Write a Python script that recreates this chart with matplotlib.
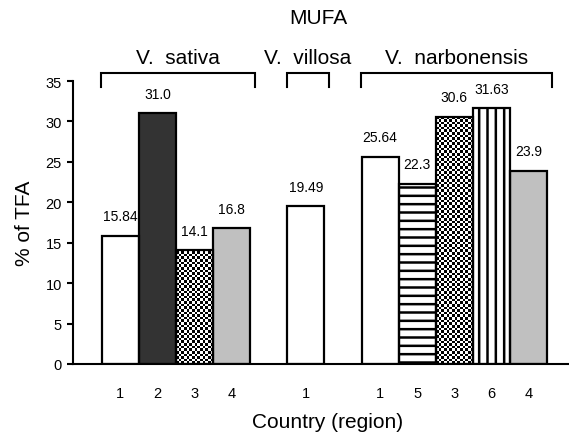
import numpy as np
import matplotlib
matplotlib.use("Agg")
import matplotlib.pyplot as plt

plt.rcParams['font.family'] = ['Liberation Sans', 'DejaVu Sans']
plt.rcParams['hatch.linewidth'] = 1.8

# MUFA content per species, one bar per country (region)
species = ['V.  sativa', 'V.  villosa', 'V.  narbonensis']
regions = [[1, 2, 3, 4], [1], [1, 5, 3, 6, 4]]
mufa = [[15.84, 31.0, 14.1, 16.8], [19.49], [25.64, 22.3, 30.6, 31.63, 23.9]]

# fill style for each region code
region_fill = {1: 'white', 2: '#333333', 3: 'checker', 4: '#c0c0c0', 5: '--', 6: '||'}

fig = plt.figure(figsize=(5.69, 4.35), dpi=100)
ax = fig.add_axes([73 / 569, 1 - 365 / 435, 496 / 569, 283 / 435])
ax.set_xlim(-1.275, 12.09)
ax.set_ylim(0, 35)

# bar slots: groups next to each other with one empty slot between
xs, hs, regs, spans = [], [], [], []
pos = 0
for reg, vals in zip(regions, mufa):
    start = pos
    for r, v in zip(reg, vals):
        xs.append(pos)
        hs.append(v)
        regs.append(r)
        pos += 1
    spans.append((start, pos - 1))
    pos += 1

px_x = ax.transData.transform((1, 0))[0] - ax.transData.transform((0, 0))[0]
px_y = ax.transData.transform((0, 1))[1] - ax.transData.transform((0, 0))[1]
cell = 2.6  # checker cell, pixels

for x, h, r in zip(xs, hs, regs):
    style = region_fill[r]
    if style in ('--', '||'):
        ax.bar(x, h, width=1.0, color='white', edgecolor='black', hatch=style,
               linewidth=0, zorder=2)
    elif style == 'checker':
        b = ax.bar(x, h, width=1.0, color='white', linewidth=0, zorder=2)[0]
        nx = int(np.ceil(px_x / cell))
        ny = int(np.ceil(h * px_y / cell))
        board = (np.indices((ny, nx)).sum(axis=0) % 2).astype(float)
        im = ax.imshow(board, cmap='gray', interpolation='nearest', aspect='auto',
                       extent=(x - 0.5, x - 0.5 + nx * cell / px_x, 0, ny * cell / px_y),
                       origin='lower', zorder=2.5)
        im.set_clip_path(b)
    else:
        ax.bar(x, h, width=1.0, color=style, linewidth=0, zorder=2)

ax.bar(xs, hs, width=1.0, fill=False, edgecolor='black', linewidth=1.6, zorder=3)
ax.set_xlim(-1.275, 12.09)
ax.set_ylim(0, 35)

for x, h in zip(xs, hs):
    ax.annotate(str(h), (x, h), xytext=(0, 14), textcoords='offset points',
                ha='center', va='center', fontsize=10, zorder=4)

# species brackets above the bars
for name, (a, b) in zip(species, spans):
    x0, x1 = a - 0.52, b + 0.62
    ax.plot([x0, x0, x1, x1], [34.25, 35.95, 35.95, 34.25], color='black',
            linewidth=1.5, clip_on=False, solid_joinstyle='miter')
    ax.text((x0 + x1) / 2, 37.85, name, ha='center', va='center', fontsize=15,
            clip_on=False)

ax.set_xticks(xs)
ax.set_xticklabels([str(r) for r in regs])
ax.tick_params(axis='x', length=0, pad=16, labelsize=10.5)
ax.set_yticks(range(0, 36, 5))
ax.tick_params(axis='y', length=4, width=1.5, pad=4, labelsize=10.5)

for side in ('top', 'right'):
    ax.spines[side].set_visible(False)
for side in ('left', 'bottom'):
    ax.spines[side].set_linewidth(1.5)

ax.set_xlabel('Country (region)', fontsize=15)
ax.xaxis.set_label_coords(0.514, -0.17)
ax.set_ylabel('% of TFA', fontsize=15)
ax.yaxis.set_label_coords(-0.078, 0.5)

fig.text(318 / 569, 1 - 18 / 435, 'MUFA', ha='center', va='center', fontsize=15)

fig.savefig('out.png', dpi=100)
